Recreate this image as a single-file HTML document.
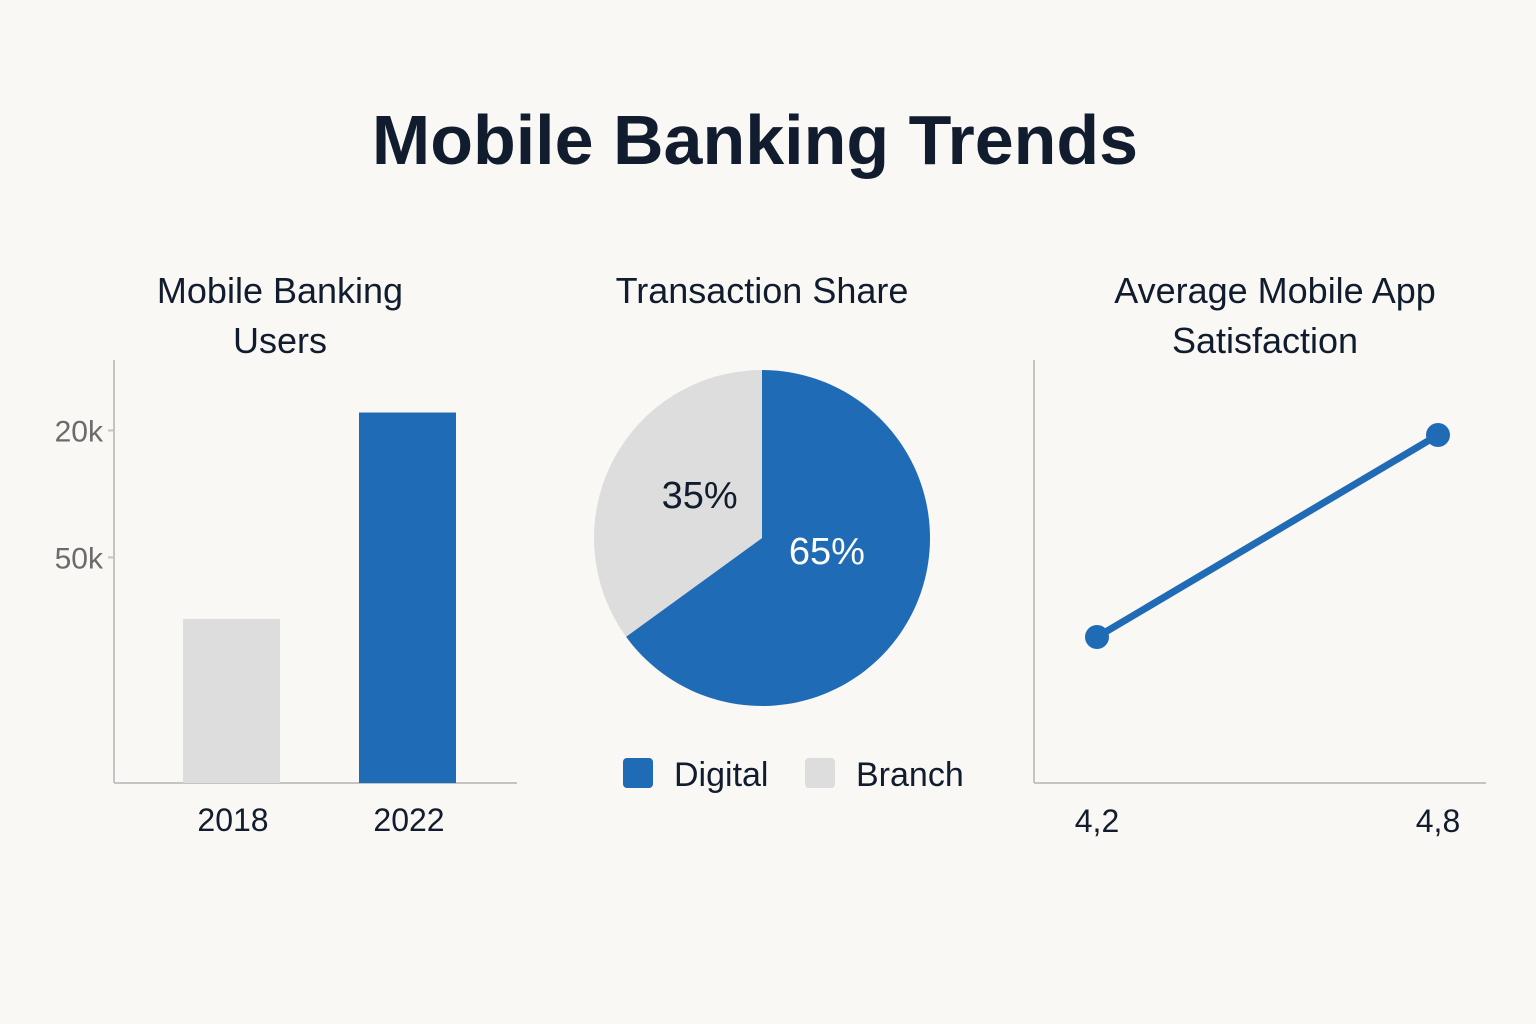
<!DOCTYPE html>
<html><head><meta charset="utf-8">
<style>
html,body{margin:0;padding:0;background:#f9f8f4;}
svg{display:block;font-family:"Liberation Sans",sans-serif;}
</style></head>
<body>
<svg width="1536" height="1024" viewBox="0 0 1536 1024">
<rect width="1536" height="1024" fill="#f9f8f4"/>
<text x="755" y="164" text-anchor="middle" font-size="70" font-weight="bold" fill="#111c2e">Mobile Banking Trends</text>

<g font-size="36" fill="#111c2e" text-anchor="middle">
<text x="280" y="303">Mobile Banking</text><text x="280" y="353">Users</text></g>
<text x="762" y="303" text-anchor="middle" font-size="36" fill="#111c2e">Transaction Share</text>
<g font-size="36" fill="#111c2e" text-anchor="middle">
<text x="1275" y="303">Average Mobile App</text><text x="1265" y="353">Satisfaction</text></g>

<g id="bars"></g>
<g id="pie"></g>
<g id="line"></g>
</svg>
<script>
const barCats=["2018","2022"];
const barVals=[12.8,28.9];
const barTickVals=[27.5,17.6];
const barTickLabels=["20k","50k"];
const pieLabels=["Digital","Branch"];
const pieVals=[65,35];
const lineCats=["4,2","4,8"];
const lineVals=[4.2,4.8];

const NS="http://www.w3.org/2000/svg";
function mk(p,t,a){const e=document.createElementNS(NS,t);for(const k in a)e.setAttribute(k,a[k]);p.appendChild(e);return e;}
const BLUE="#1f6bb5",GRAY="#dddddd",AX="#c4c4c4";

// bar chart
const bg=document.getElementById('bars');
const by=v=>783-v*12.82;
const bx=i=>183+i*176;
let e=mk(bg,'line',{x1:114,y1:360,x2:114,y2:783,stroke:AX,'stroke-width':2});

e=mk(bg,'line',{x1:114,y1:783,x2:517,y2:783,stroke:AX,'stroke-width':2});

barTickVals.forEach((v,i)=>{
 const t=mk(bg,'text',{x:103,y:by(v)+11,'text-anchor':'end','font-size':30,fill:'#6b6b6b'});
 t.textContent=barTickLabels[i];
 
 const l=mk(bg,'line',{x1:108,y1:by(v),x2:114,y2:by(v),stroke:AX,'stroke-width':2});
 
});
barVals.forEach((v,i)=>{
 const r=mk(bg,'rect',{x:bx(i),y:by(v),width:97,height:783-by(v),fill:i==0?GRAY:BLUE});
 
 const t=mk(bg,'text',{x:bx(i)+50,y:831,'text-anchor':'middle','font-size':32,fill:'#111c2e'});
 t.textContent=barCats[i];
 
});

// pie
const pg=document.getElementById('pie');
const cx=762,cy=538,R=168;
const tot=pieVals.reduce((a,b)=>a+b,0);
let ang=0;
pieVals.forEach((v,i)=>{
 const a0=ang,a1=ang+v/tot*2*Math.PI;ang=a1;
 const p=a=>[cx+R*Math.sin(a),cy-R*Math.cos(a)];
 const [x0,y0]=p(a0),[x1,y1]=p(a1);
 const s=mk(pg,'path',{d:`M${cx},${cy}L${x0},${y0}A${R},${R} 0 ${a1-a0>Math.PI?1:0} 1 ${x1},${y1}Z`,fill:i==0?BLUE:GRAY});
 
 const m=(a0+a1)/2, rr=i==0?0.5:0.55;
 const t=mk(pg,'text',{x:cx+R*rr*Math.sin(m)+(i==0?-10:20),y:cy-R*rr*Math.cos(m)+12+(i==0?-24:0),'text-anchor':'middle','font-size':38,fill:i==0?'#ffffff':'#111c2e'});
 t.textContent=v+'%';
 
});
const legX=[623,805];
pieLabels.forEach((l,i)=>{
 const r=mk(pg,'rect',{x:legX[i],y:758,width:30,height:30,rx:4,fill:i==0?BLUE:GRAY});
 
 const t=mk(pg,'text',{x:legX[i]+51,y:786,'font-size':34,fill:'#111c2e'});
 t.textContent=l;
 
});

// line
const lg=document.getElementById('line');
const ly=v=>637-(v-4.2)*336.7;
const lx=i=>1097+i*341;
e=mk(lg,'line',{x1:1034,y1:360,x2:1034,y2:783,stroke:AX,'stroke-width':2});

e=mk(lg,'line',{x1:1034,y1:783,x2:1486,y2:783,stroke:AX,'stroke-width':2});

const pl=mk(lg,'polyline',{points:lineVals.map((v,i)=>lx(i)+','+ly(v)).join(' '),fill:'none',stroke:BLUE,'stroke-width':7});

lineVals.forEach((v,i)=>{
 const c=mk(lg,'circle',{cx:lx(i),cy:ly(v),r:12,fill:BLUE});
 
 const t=mk(lg,'text',{x:lx(i),y:832,'text-anchor':'middle','font-size':32,fill:'#111c2e'});
 t.textContent=lineCats[i];
 
});
</script>
</body></html>
